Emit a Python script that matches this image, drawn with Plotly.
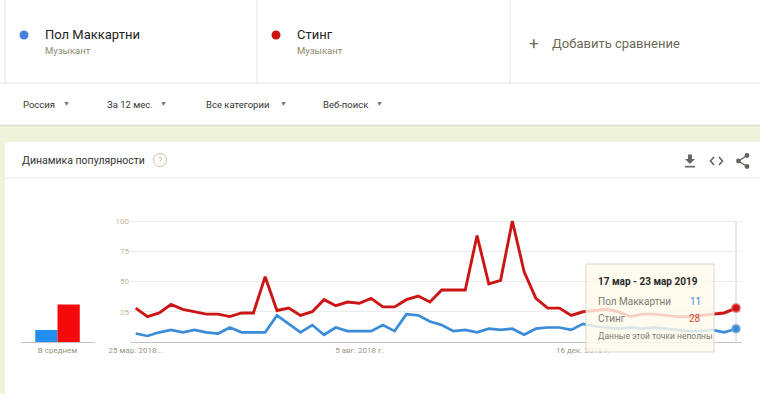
import pandas as pd
import plotly.graph_objects as go

W, H = 760, 394

# ---------------- data ----------------
weeks = pd.date_range("2018-03-25", periods=52, freq="7D")
mccartney = [7, 5, 8, 10, 8, 10, 8, 7, 12, 8, 8, 8, 22, 15, 8, 14, 6, 12, 9, 9,
             9, 14, 9, 23, 22, 17, 14, 9, 10, 8, 11, 10, 11, 6, 11, 12, 12, 10, 15, 13,
             12, 11, 12, 11, 12, 11, 10, 9, 9, 10, 8, 11]
sting = [28, 21, 24, 31, 27, 25, 23, 23, 21, 24, 24, 54, 26, 28, 22, 25, 35, 30, 33, 32,
         36, 29, 29, 35, 38, 33, 43, 43, 43, 88, 48, 51, 100, 58, 36, 28, 28, 22, 25, 26,
         27, 25, 21, 23, 23, 22, 21, 21, 22, 23, 24, 28]
avg_label = ["В среднем"]
avg_mccartney = [10]
avg_sting = [31]
y_ticks = [25, 50, 75, 100]
x_tickvals = ["2018-03-25", "2018-08-05", "2018-12-16"]
x_ticktext = ["25 мар. 2018...", "5 авг. 2018 г.", "16 дек. 2018 г."]
names = ["Пол Маккартни", "Стинг"]
tooltip_title = "17 мар - 23 мар 2019"

BLUE = "#3a8bd8"
RED = "#cc1515"
BLUE_BAR = "#1f8ff0"
RED_BAR = "#f40a0a"
FONT = "Roboto"


def px(x):
    return x / W


def py(y):
    return 1 - y / H


fig = go.Figure()

fig.add_trace(go.Scatter(x=weeks, y=mccartney, mode="lines", name=names[0],
                         line=dict(color=BLUE, width=2.7), xaxis="x", yaxis="y",
                         hoverinfo="skip"))
fig.add_trace(go.Scatter(x=weeks, y=sting, mode="lines", name=names[1],
                         line=dict(color=RED, width=2.9), xaxis="x", yaxis="y",
                         hoverinfo="skip"))
fig.add_trace(go.Scatter(x=[weeks[-1]], y=[mccartney[-1]], mode="markers",
                         marker=dict(color=BLUE, size=8,
                                     line=dict(color="rgba(120,170,225,0.6)", width=2)),
                         xaxis="x", yaxis="y", hoverinfo="skip", cliponaxis=False))
fig.add_trace(go.Scatter(x=[weeks[-1]], y=[sting[-1]], mode="markers",
                         marker=dict(color=RED, size=8,
                                     line=dict(color="rgba(230,90,90,0.6)", width=2)),
                         xaxis="x", yaxis="y", hoverinfo="skip", cliponaxis=False))

fig.add_trace(go.Bar(x=avg_label, y=avg_mccartney, marker_color=BLUE_BAR,
                     xaxis="x2", yaxis="y2", hoverinfo="skip"))
fig.add_trace(go.Bar(x=avg_label, y=avg_sting, marker_color=RED_BAR,
                     xaxis="x2", yaxis="y2", hoverinfo="skip"))

y0_px, unit = 342, 1.21
ydom = [py(y0_px), py(y0_px - 102 * unit)]

shapes = []
shapes.append(dict(type="rect", xref="paper", yref="paper", x0=0, x1=1,
                   y0=py(142), y1=py(125), fillcolor="#eff3dc", line_width=0, layer="below"))
shapes.append(dict(type="rect", xref="paper", yref="paper", x0=0, x1=px(5),
                   y0=0, y1=py(142), fillcolor="#eff3dc", line_width=0, layer="below"))
shapes.append(dict(type="line", xref="paper", yref="paper", x0=0, x1=1,
                   y0=py(125.5), y1=py(125.5), line=dict(color="#d9dbcc", width=1.5), layer="below"))
for xv in [5, 257, 510]:
    shapes.append(dict(type="line", xref="paper", yref="paper", x0=px(xv), x1=px(xv),
                       y0=py(83), y1=1, line=dict(color="#e4e4dc", width=1), layer="below"))
shapes.append(dict(type="line", xref="paper", yref="paper", x0=0, x1=1,
                   y0=py(83), y1=py(83), line=dict(color="#e4e4dc", width=1), layer="below"))
shapes.append(dict(type="line", xref="paper", yref="paper", x0=px(5), x1=1,
                   y0=py(178), y1=py(178), line=dict(color="#e8e8e2", width=1), layer="below"))
shapes.append(dict(type="circle", xref="paper", yref="paper", x0=px(19.5), x1=px(28.5),
                   y0=py(39.5), y1=py(30.5), fillcolor="#4a7fe0", line_width=0))
shapes.append(dict(type="circle", xref="paper", yref="paper", x0=px(271.5), x1=px(280.5),
                   y0=py(39.5), y1=py(30.5), fillcolor="#cc1414", line_width=0))
shapes.append(dict(type="circle", xref="paper", yref="paper", x0=px(153.5), x1=px(166.5),
                   y0=py(166.5), y1=py(153.5), line=dict(color="#c9c3a6", width=1)))


def path(points, close=True):
    s = "M " + " L ".join(f"{px(a):.5f},{py(b):.5f}" for a, b in points)
    return s + (" Z" if close else "")


shapes.append(dict(type="path", xref="paper", yref="paper",
                   path=path([(688, 154.5), (692, 154.5), (692, 159), (695, 159), (690, 164),
                              (685, 159), (688, 159)]),
                   fillcolor="#666660", line_width=0))
shapes.append(dict(type="rect", xref="paper", yref="paper", x0=px(685), x1=px(695),
                   y0=py(167.5), y1=py(165.8), fillcolor="#666660", line_width=0))
shapes.append(dict(type="path", xref="paper", yref="paper",
                   path=path([(714, 157), (710.5, 161), (714, 165)], close=False),
                   line=dict(color="#666660", width=1.6)))
shapes.append(dict(type="path", xref="paper", yref="paper",
                   path=path([(719, 157), (722.5, 161), (719, 165)], close=False),
                   line=dict(color="#666660", width=1.6)))
shapes.append(dict(type="path", xref="paper", yref="paper",
                   path=path([(747, 155.5), (738.5, 161), (747, 166.5)], close=False),
                   line=dict(color="#666660", width=1.4)))
for cx, cy in [(747, 155.5), (738.5, 161), (747, 166.5)]:
    shapes.append(dict(type="circle", xref="paper", yref="paper", x0=px(cx - 2.4), x1=px(cx + 2.4),
                       y0=py(cy + 2.4), y1=py(cy - 2.4), fillcolor="#666660", line_width=0))
shapes.append(dict(type="line", xref="x", yref="y", x0=weeks[-1], x1=weeks[-1],
                   y0=0, y1=100, line=dict(color="#d2d2d2", width=1), layer="below"))
shapes.append(dict(type="rect", xref="paper", yref="paper", x0=px(586), x1=px(714),
                   y0=py(352), y1=py(264), fillcolor="rgba(255,250,234,0.82)",
                   line=dict(color="#dcd9cc", width=1), layer="above"))

ann = []


def text(x, y, s, size, color, anchor="left", bold=False):
    if bold:
        s = f"<b>{s}</b>"
    ann.append(dict(x=px(x), y=py(y), xref="paper", yref="paper", text=s, showarrow=False,
                    xanchor=anchor, yanchor="middle",
                    font=dict(family=FONT, size=size, color=color)))


text(43, 34, names[0], 13, "#222222")
text(43, 50, "Музыкант", 9.5, "#8d8b6e")
text(295, 34, names[1], 13, "#222222")
text(295, 50, "Музыкант", 9.5, "#8d8b6e")
text(527, 43, "+", 17, "#6b6a56")
text(550, 43, "Добавить сравнение", 13, "#6b6a56")

filters = [(21, "Россия", 66), (105, "За 12 мес.", 163), (204, "Все категории", 283),
           (321, "Веб-поиск", 379)]
for x, s, ax in filters:
    text(x, 104, s, 9.5, "#333333")
    text(ax, 103.5, "▼", 7, "#777777", anchor="center")

text(20, 160, "Динамика популярности", 10.5, "#333333")
text(160, 160.5, "?", 9, "#c9c3a6", anchor="center")

text(596, 281, tooltip_title, 10, "#2a2a2a", bold=True)
text(596, 301.5, names[0], 10, "#7a7a72")
text(703, 301.5, str(mccartney[-1]), 10, BLUE, anchor="right")
text(596, 318, names[1], 10, "#7a7a72")
text(703, 318, str(sting[-1]), 10, "#d44a3a", anchor="right")
text(596, 335.5, "Данные этой точки неполны", 8.5, "#7a7a72")

axis_common = dict(automargin=False, fixedrange=True)
fig.update_layout(
    template="none",
    width=W, height=H, margin=dict(l=0, r=0, t=0, b=0, pad=0, autoexpand=False),
    paper_bgcolor="white", plot_bgcolor="rgba(0,0,0,0)",
    showlegend=False, hovermode=False,
    barmode="group", bargap=0.398, bargroupgap=0,
    font=dict(family=FONT),
    xaxis=dict(domain=[px(130), px(742)], anchor="y", type="date",
               range=["2018-03-21 14:40", "2019-03-20 13:40"],
               tickvals=x_tickvals, ticktext=x_ticktext, tickangle=0,
               tickfont=dict(size=8, color="#9a9684", family=FONT),
               showgrid=False, showline=True, linecolor="#c4c4c4", linewidth=1,
               ticks="", zeroline=False, **axis_common),
    yaxis=dict(domain=ydom, anchor="x", range=[0, 102], tickvals=y_ticks,
               tickfont=dict(size=8, color="#bdb69c", family=FONT),
               showgrid=True, gridcolor="#ececec", gridwidth=1,
               zeroline=False, showline=False, ticks="", **axis_common),
    xaxis2=dict(domain=[px(20.5), px(94.5)], anchor="y2", type="category",
                tickfont=dict(size=8, color="#9a9684", family=FONT),
                showgrid=False, showline=True, linecolor="#c4c4c4", linewidth=1,
                ticks="", **axis_common),
    yaxis2=dict(domain=ydom, anchor="x2", range=[0, 102], showgrid=False,
                showticklabels=False, zeroline=False, showline=False, **axis_common),
    shapes=shapes, annotations=ann,
)

fig.write_html("out.html", config={"displayModeBar": False},
               post_script="document.body.style.margin='0';")
